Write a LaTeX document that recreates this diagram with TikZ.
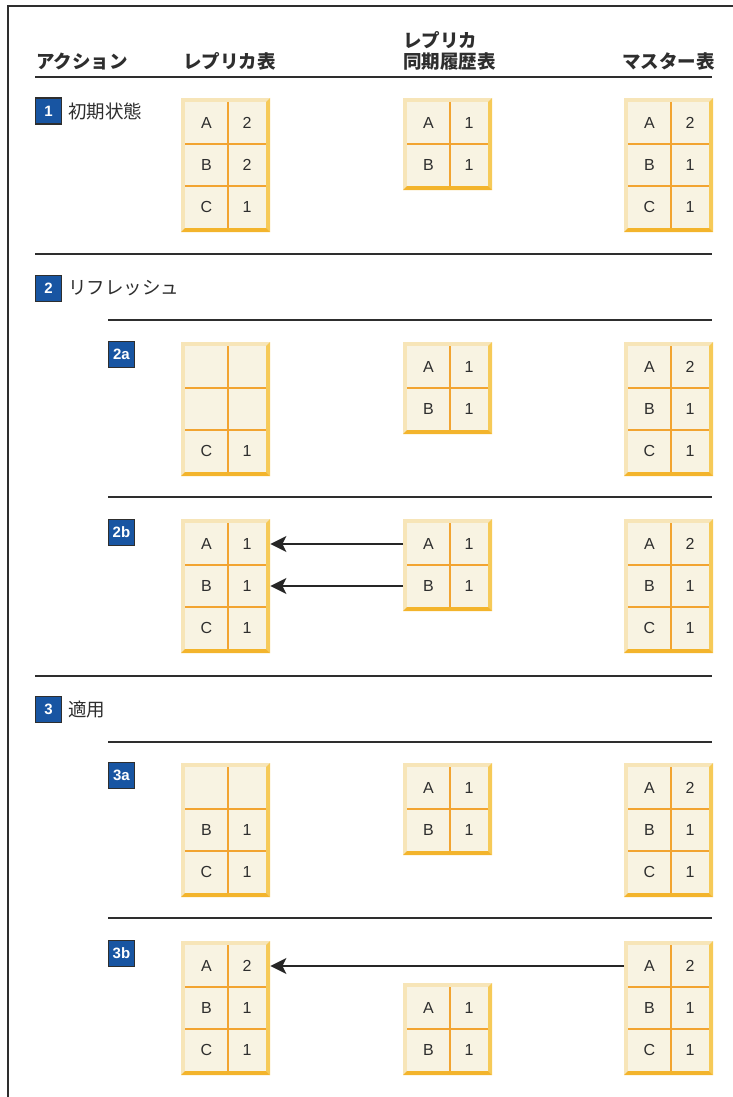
\documentclass[tikz,border=0pt]{standalone}
\usepackage{fontspec}
\setmainfont{Liberation Sans}
\newfontfamily\jpfont{Noto Sans CJK JP}
\usetikzlibrary{arrows.meta,positioning}

\definecolor{badgeblue}{HTML}{1855A2}
\definecolor{inkgray}{HTML}{2E2E2E}
\definecolor{cellcream}{HTML}{F8F3E2}
\definecolor{gridorange}{HTML}{F2A431}
\definecolor{rimlight}{HTML}{F7E5B8}
\definecolor{rimgold}{HTML}{F6CA58}
\definecolor{rimdeep}{HTML}{F3B42C}

% #1 name, #2 left, #3 top, #4 rows, #5 cells key/value
\newcommand{\dtable}[5]{%
  \pgfmathsetmacro{\tabbot}{#3+8+42*#4}
  \node[tabframe,minimum height={8pt+42pt*#4}] (#1) at (#2,#3) {};
  \fill[rimgold] (#2+89,#3) -- (#2+89,\tabbot) -- (#2+85,\tabbot-4) -- (#2+85,#3+4) -- cycle;
  \fill[rimdeep] (#2,\tabbot) -- (#2+89,\tabbot) -- (#2+85,\tabbot-4) -- (#2+4,\tabbot-4) -- cycle;
  \fill[cellcream] (#2+4,#3+4) rectangle (#2+85,\tabbot-4);
  \draw[grid] (#2+47,#3+4) -- (#2+47,\tabbot-4);
  \foreach \k in {2,...,#4}
    \draw[grid] (#2+4,#3+42*\k-38) -- (#2+85,#3+42*\k-38);
  \foreach \ca/\cb [count=\ci] in {#5} {
    \node[cell] (#1-k\ci) at (#2+25.5,#3+42*\ci-17) {\ca};
    \node[cell] (#1-v\ci) at (#2+66,#3+42*\ci-17) {\cb};
  }
}

\begin{document}
\begin{tikzpicture}[x=1pt,y=-1pt,
  rule/.style={draw=inkgray,line width=2pt},
  badge/.style={rectangle,fill=badgeblue,draw=inkgray,line width=1.2pt,minimum size=26pt,
    inner sep=0pt,text=white,font=\bfseries\fontsize{15}{15}\selectfont},
  steplabel/.style={inner sep=0pt,text=inkgray,font=\jpfont\fontsize{18.5}{20}\selectfont},
  colhead/.style={inner sep=0pt,anchor=base west,text=inkgray,
    font=\jpfont\bfseries\fontsize{18.5}{20}\selectfont},
  tabframe/.style={rectangle,fill=rimlight,anchor=north west,minimum width=89pt,inner sep=0pt},
  grid/.style={draw=gridorange,line width=1.6pt},
  cell/.style={inner sep=0pt,text=inkgray,font=\fontsize{16}{16}\selectfont},
  link/.style={draw=black!85,line width=1.8pt,-{Stealth[length=16pt,width=16pt,inset=4pt]}}]

  \useasboundingbox (0,0) rectangle (733,1097);
  \draw[rule] (8,1097) -- (8,6) -- (733,6);

  % column heads
  \node[colhead] (hact) at (36,69) {アクション};
  \node[colhead] (hrep) at (183,69) {レプリカ表};
  \node[colhead] (hsync) at (403,48) {レプリカ};
  \node[colhead] (hsync2) at (403,69) {同期履歴表};
  \node[colhead] (hmas) at (622,69) {マスター表};
  \draw[rule] (35,77) -- (712,77);

  % 1
  \node[badge] (b1) at (48.5,111) {1};
  \node[steplabel,right=6pt of b1] (t1) {初期状態};
  \dtable{r1}{181}{98}{3}{A/2,B/2,C/1}
  \dtable{s1}{403}{98}{2}{A/1,B/1}
  \dtable{m1}{624}{98}{3}{A/2,B/1,C/1}
  \draw[rule] (35,254) -- (712,254);

  % 2
  \node[badge] (b2) at (48.5,288.5) {2};
  \node[steplabel,right=6pt of b2] (t2) {リフレッシュ};
  \draw[rule] (108,320) -- (712,320);
  \node[badge] (b2a) at (121.5,354.5) {2a};
  \dtable{r2a}{181}{342}{3}{{}/{},{}/{},C/1}
  \dtable{s2a}{403}{342}{2}{A/1,B/1}
  \dtable{m2a}{624}{342}{3}{A/2,B/1,C/1}
  \draw[rule] (108,497) -- (712,497);
  \node[badge] (b2b) at (121.5,532.5) {2b};
  \dtable{r2b}{181}{519}{3}{A/1,B/1,C/1}
  \dtable{s2b}{403}{519}{2}{A/1,B/1}
  \dtable{m2b}{624}{519}{3}{A/2,B/1,C/1}
  \draw[link] (s2b-k1 -| s2b.west) -- (r2b-v1 -| r2b.east);
  \draw[link] (s2b-k2 -| s2b.west) -- (r2b-v2 -| r2b.east);
  \draw[rule] (35,676) -- (712,676);

  % 3
  \node[badge] (b3) at (48.5,709.5) {3};
  \node[steplabel,right=6pt of b3] (t3) {適用};
  \draw[rule] (108,742) -- (712,742);
  \node[badge] (b3a) at (121.5,775.5) {3a};
  \dtable{r3a}{181}{763}{3}{{}/{},B/1,C/1}
  \dtable{s3a}{403}{763}{2}{A/1,B/1}
  \dtable{m3a}{624}{763}{3}{A/2,B/1,C/1}
  \draw[rule] (108,918) -- (712,918);
  \node[badge] (b3b) at (121.5,953.5) {3b};
  \dtable{r3b}{181}{941}{3}{A/2,B/1,C/1}
  \dtable{s3b}{403}{983}{2}{A/1,B/1}
  \dtable{m3b}{624}{941}{3}{A/2,B/1,C/1}
  \draw[link] (m3b-k1 -| m3b.west) -- (r3b-v1 -| r3b.east);
\end{tikzpicture}
\end{document}
